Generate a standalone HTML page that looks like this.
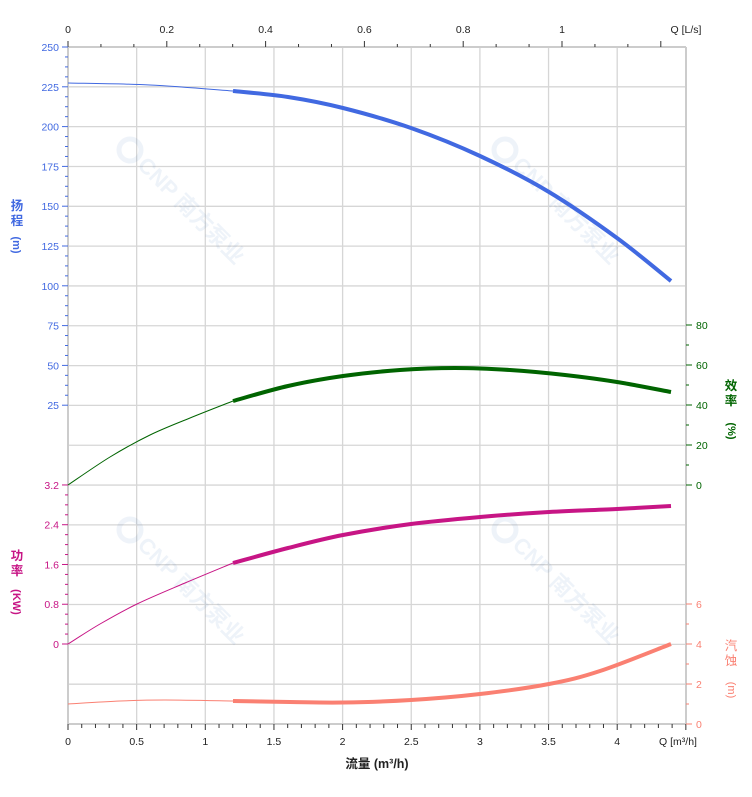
<!DOCTYPE html>
<html><head><meta charset="utf-8"><style>
body{margin:0;background:#fff;}
svg{display:block;font-family:"Liberation Sans","Noto Sans CJK SC",sans-serif;}
</style></head><body>
<svg id="s" width="752" height="797" xmlns="http://www.w3.org/2000/svg"></svg>
<script>
const s=document.getElementById('s');let h='';
const L=68,R=686,T=47,B=724,X=q=>68+q*137.3;
for(let i=0;i<=17;i++){const y=T+i*(B-T)/17;h+=`<line x1="${L}" x2="${R}" y1="${y}" y2="${y}" stroke="#d6d6d6" stroke-width="1.3"/>`;}
for(let i=0;i<=9;i++){const x=X(i*0.5);h+=`<line x1="${x}" x2="${x}" y1="${T}" y2="${B}" stroke="#d6d6d6" stroke-width="1.3"/>`;}
h+=`<line x1="${L}" x2="${L}" y1="${T}" y2="${B}" stroke="#ccc" stroke-width="2"/>`;
h+=`<line x1="${R}" x2="${R}" y1="${T}" y2="${B}" stroke="#ccc" stroke-width="2"/>`;
h+=`<line x1="${L}" x2="${R}" y1="${B}" y2="${B}" stroke="#ccc" stroke-width="2"/>`;
h+=`<line x1="${L}" x2="${R}" y1="${T}" y2="${T}" stroke="#ccc" stroke-width="2"/>`;
for(let i=0;i<=45;i++){const x=X(i*0.1);h+=`<line x1="${x}" x2="${x}" y1="${B}" y2="${B+(i%5?4:6)}" stroke="#333"/>`;}
['0','0.5','1','1.5','2','2.5','3','3.5','4'].forEach((t,i)=>h+=`<text x="${X(i*0.5)}" y="745" font-size="10.5" text-anchor="middle" fill="#222">${t}</text>`);
h+=`<text x="678" y="745" font-size="10.5" text-anchor="middle" fill="#222">Q [m³/h]</text>`;
h+=`<text x="377" y="768" font-size="12.5" font-weight="bold" text-anchor="middle" fill="#222">流量 (m³/h)</text>`;
for(let i=0;i<=18;i++){const x=68+i*0.2/3*494;h+=`<line x1="${x}" x2="${x}" y1="${T}" y2="${T-(i%3?3:6)}" stroke="#333"/>`;}
['0','0.2','0.4','0.6','0.8','1'].forEach((t,i)=>h+=`<text x="${68+i*0.2*494}" y="33" font-size="10.5" text-anchor="middle" fill="#222">${t}</text>`);
h+=`<text x="686" y="33" font-size="10.5" text-anchor="middle" fill="#222">Q [L/s]</text>`;
const Hy=v=>445-v*1.592;
for(let v=25;v<=250;v+=6.25){const y=Hy(v);const maj=Math.abs(v%25)<1e-6;h+=`<line x1="${L-(maj?6:3)}" x2="${L}" y1="${y}" y2="${y}" stroke="#4169e1"/>`;}
for(let v=25;v<=250;v+=25)h+=`<text x="59" y="${Hy(v)+4}" font-size="10.5" text-anchor="end" fill="#4169e1">${v}</text>`;
h+=`<text x="17" y="210" font-size="12.5" font-weight="bold" fill="#4169e1" text-anchor="middle">扬</text><text x="17" y="225" font-size="12.5" font-weight="bold" fill="#4169e1" text-anchor="middle">程</text><text transform="translate(13,245) rotate(90)" font-size="11" font-weight="bold" fill="#4169e1" text-anchor="middle">(m)</text>`;
const Py=v=>644-v*49.7;
for(let v=0;v<=3.2001;v+=0.2){const y=Py(v);const maj=Math.abs(v/0.8-Math.round(v/0.8))<1e-6;h+=`<line x1="${L-(maj?6:3)}" x2="${L}" y1="${y}" y2="${y}" stroke="#c71585"/>`;}
['0','0.8','1.6','2.4','3.2'].forEach((t,i)=>h+=`<text x="59" y="${Py(i*0.8)+4}" font-size="10.5" text-anchor="end" fill="#c71585">${t}</text>`);
h+=`<text x="17" y="560" font-size="12.5" font-weight="bold" fill="#c71585" text-anchor="middle">功</text><text x="17" y="575" font-size="12.5" font-weight="bold" fill="#c71585" text-anchor="middle">率</text><text transform="translate(13,602) rotate(90)" font-size="11" font-weight="bold" fill="#c71585" text-anchor="middle">(KW)</text>`;
const Ey=v=>485-v*2;
for(let v=0;v<=80;v+=10){h+=`<line x1="${R}" x2="${R+(v%20?3:6)}" y1="${Ey(v)}" y2="${Ey(v)}" stroke="#006400"/>`;}
for(let v=0;v<=80;v+=20)h+=`<text x="696" y="${Ey(v)+4}" font-size="10.5" fill="#006400">${v}</text>`;
h+=`<text x="731" y="390" font-size="12.5" font-weight="bold" fill="#006400" text-anchor="middle">效</text><text x="731" y="405" font-size="12.5" font-weight="bold" fill="#006400" text-anchor="middle">率</text><text transform="translate(728,431) rotate(90)" font-size="11" font-weight="bold" fill="#006400" text-anchor="middle">(%)</text>`;
const Ny=v=>724-v*20;
for(let v=0;v<=6;v+=1){h+=`<line x1="${R}" x2="${R+(v%2?3:6)}" y1="${Ny(v)}" y2="${Ny(v)}" stroke="#fa8072"/>`;}
for(let v=0;v<=6;v+=2)h+=`<text x="696" y="${Ny(v)+4}" font-size="10.5" fill="#fa8072">${v}</text>`;
h+=`<text x="731" y="650" font-size="12.5" fill="#fa8072" text-anchor="middle">汽</text><text x="731" y="665" font-size="12.5" fill="#fa8072" text-anchor="middle">蚀</text><text transform="translate(728,690) rotate(90)" font-size="11" fill="#fa8072" text-anchor="middle">(m)</text>`;
function wm(x,y){h+=`<g transform="translate(${x},${y}) rotate(45)" opacity="0.09" fill="#4a7fc0"><circle cx="0" cy="0" r="11" fill="none" stroke="#4a7fc0" stroke-width="5"/><text x="16" y="7" font-size="22" font-weight="bold">CNP 南方泵业</text></g>`;}
wm(130,150);wm(505,150);wm(130,530);wm(505,530);
function cr(p){let d=`M${p[0][0]},${p[0][1]}`;for(let i=0;i<p.length-1;i++){const a=p[i-1]||p[i],b=p[i],c=p[i+1],e=p[i+2]||c;d+=` C${b[0]+(c[0]-a[0])/6},${b[1]+(c[1]-a[1])/6} ${c[0]-(e[0]-b[0])/6},${c[1]-(e[1]-b[1])/6} ${c[0]},${c[1]}`;}return d;}
function curve(thin,thick,col){h+=`<path d="${cr(thin)}" fill="none" stroke="${col}" stroke-width="1"/>`;h+=`<path d="${cr(thick)}" fill="none" stroke="${col}" stroke-width="4"/>`;}
curve([[68,83],[150,85],[233,91]],[[233,91],[288,97],[343,108],[411,128],[480,156],[549,192],[617,238],[671,281]],'#4169e1');
curve([[68,485],[110,457],[150,435],[190,418],[233,401]],[[233,401],[288,386],[343,376],[400,370],[455,368],[510,370],[565,375],[617,382],[671,392]],'#006400');
curve([[68,644],[100,624],[137,604],[185,583],[233,563]],[[233,563],[288,548],[343,535],[411,524],[480,517],[549,512],[617,509],[671,506]],'#c71585');
curve([[68,704],[120,701],[165,700],[233,701]],[[233,701],[290,702],[343,702.5],[411,700],[480,694],[549,684],[600,671],[671,644]],'#fa8072');
s.innerHTML=h;
</script>
</body></html>
